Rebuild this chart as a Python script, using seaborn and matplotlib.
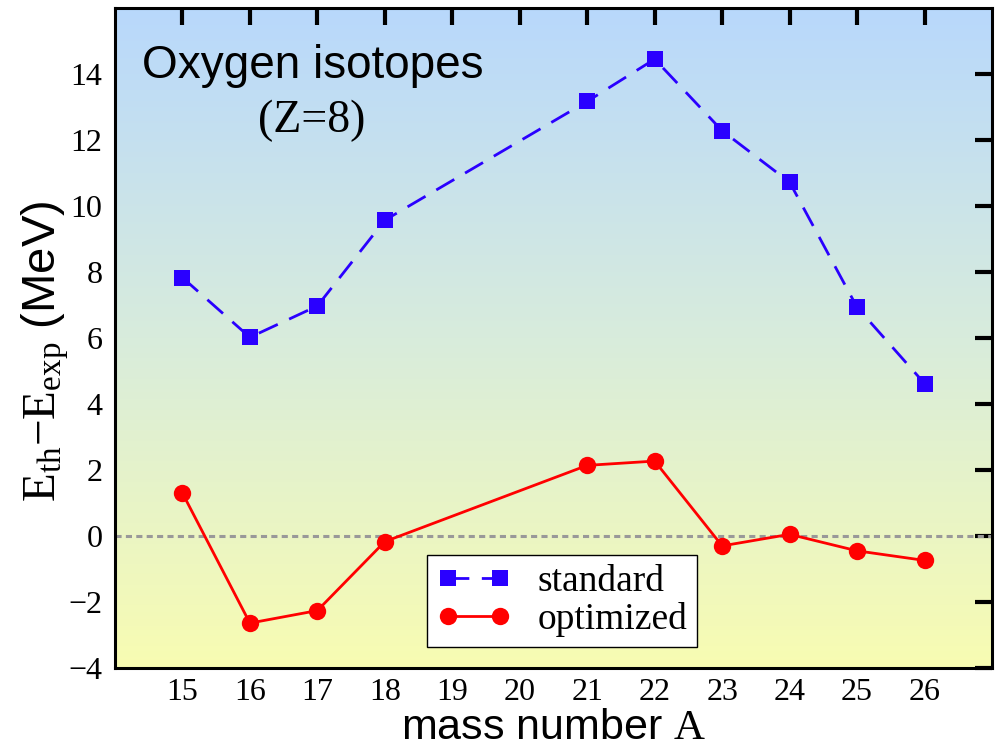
import numpy as np
import pandas as pd
import matplotlib
matplotlib.use("Agg")
import matplotlib.pyplot as plt
import seaborn as sns
from matplotlib.colors import LinearSegmentedColormap

# ---- data ----
mass_number = [15, 16, 17, 18, 21, 22, 23, 24, 25, 26]
standard = [7.83, 6.02, 6.97, 9.57, 13.17, 14.45, 12.28, 10.72, 6.93, 4.62]
optimized = [1.30, -2.64, -2.26, -0.17, 2.14, 2.27, -0.30, 0.05, -0.45, -0.74]
x_ticks = list(range(15, 27))
y_ticks = list(range(-4, 16, 2))

sns.set_theme(style="white")
plt.rcParams['font.family'] = ['Liberation Serif', 'DejaVu Serif']
plt.rcParams['mathtext.fontset'] = 'custom'
plt.rcParams['mathtext.rm'] = 'Liberation Serif'
plt.rcParams['mathtext.it'] = 'Liberation Serif:italic'
for k in ['text.color', 'axes.labelcolor', 'xtick.color', 'ytick.color']:
    plt.rcParams[k] = 'black'

df = pd.DataFrame({"A": mass_number, "standard": standard, "optimized": optimized})

fig = plt.figure(figsize=(9.98, 7.53), dpi=100)
ax = fig.add_axes([0.1152, 0.1129, 0.8788, 0.8765])

# gradient background
cmap = LinearSegmentedColormap.from_list("bg", ["#f8fcb2", "#d8ecdc", "#b8d8fc"])
grad = np.linspace(0, 1, 256).reshape(-1, 1)
ax.imshow(grad, cmap=cmap, origin="lower", aspect="auto",
          extent=[0, 1, 0, 1], transform=ax.transAxes, zorder=0)

ax.axhline(0, color="#999999", lw=2.2, linestyle=(0, (2, 1.4)), zorder=1)

sns.lineplot(data=df, x="A", y="standard", ax=ax, color="#2a00ff", lw=2,
             linestyle=(0, (7.5, 4.5)), marker="s", markersize=11,
             markeredgewidth=0, label="standard", zorder=3)
sns.lineplot(data=df, x="A", y="optimized", ax=ax, color="#ff0000", lw=2,
             marker="o", markersize=12.5, markeredgewidth=0,
             label="optimized", zorder=3)

ax.set_xlim(14, 27)
ax.set_ylim(-4, 16)
ax.set_xticks(x_ticks)
ax.set_yticks(y_ticks)
ax.tick_params(direction="in", top=True, right=True, length=12, width=3,
               labelsize=23, colors="black")
ax.tick_params(axis="x", pad=7)
ax.tick_params(axis="y", pad=9)
for s in ax.spines.values():
    s.set_linewidth(2.2)
    s.set_color("black")
    s.set_zorder(5)

ax.set_xlabel(r"mass number $\mathrm{A}$", fontsize=31, family="Liberation Sans",
              labelpad=1)
ax.set_ylabel(r"$\mathrm{E_{th}{-}E_{exp}}$ (MeV)", fontsize=34,
              family="Liberation Sans", labelpad=2)
ax.yaxis.set_label_coords(-0.05, 0.48)

ax.text(0.031, 0.894, "Oxygen isotopes", transform=ax.transAxes, fontsize=33,
        family="Liberation Sans", ha="left", va="baseline")
ax.text(0.224, 0.812, "(Z=8)", transform=ax.transAxes, fontsize=33,
        family="Liberation Serif", ha="center", va="baseline")

leg = ax.legend(loc="lower left", bbox_to_anchor=(0.356, 0.032), fontsize=27,
                frameon=True, fancybox=False, framealpha=1, edgecolor="black",
                numpoints=2, handlelength=2.0, handletextpad=0.7, borderpad=0.25,
                labelspacing=0.1, borderaxespad=0)
leg.get_frame().set_linewidth(1.0)
leg.set_zorder(6)

fig.savefig("out.png", dpi=100)
